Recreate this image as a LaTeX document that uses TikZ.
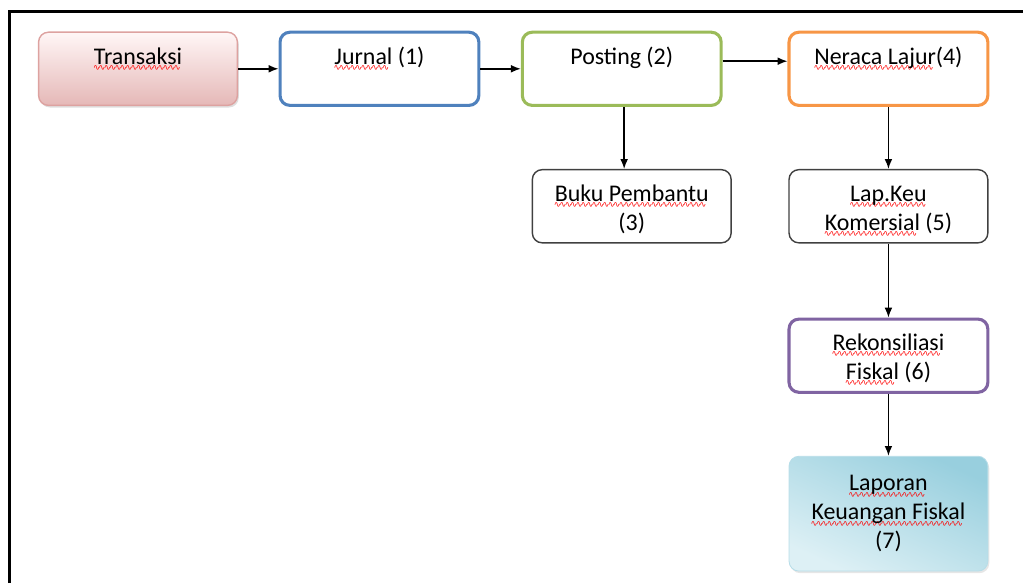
\documentclass[tikz,border=0pt]{standalone}
\usepackage{fontspec}
\setmainfont{Carlito}
\newfontfamily\wavefont{DejaVu Sans}
\usetikzlibrary{arrows.meta, positioning, shadows}

\definecolor{pinkline}{HTML}{DDA2A0}
\definecolor{pinktop}{HTML}{FFF6F6}
\definecolor{pinkbot}{HTML}{E5B8B7}
\definecolor{blueline}{HTML}{4F81BD}
\definecolor{greenline}{HTML}{9BBB59}
\definecolor{orangeline}{HTML}{F79646}
\definecolor{purpleline}{HTML}{8064A2}
\definecolor{cyantop}{HTML}{98CFDE}
\definecolor{cyanbot}{HTML}{DDF0F5}

% red wavy mark under words
\newsavebox\wordbox
\newcommand\spellmark[1]{\sbox\wordbox{#1}\leavevmode
	\rlap{\smash{\raisebox{-4.5pt}{\hbox to\wd\wordbox{\color{red}\wavefont\fontsize{6}{6}\selectfont
		\leaders\hbox{\kern-0.6pt∿\kern-0.6pt}\hfill}}}}\usebox\wordbox}

\tikzset{
	box/.style={rectangle, draw, rounded corners=7pt, minimum width=4.97cm, minimum height=1.83cm, align=center, inner sep=0pt, font=\fontsize{17}{20.6}\selectfont},
	toptext/.style={text height=23pt, text depth=29pt},
	twotext/.style={text height=42.9pt, text depth=9.1pt},
	plainbox/.style={box, twotext, draw=black!75, line width=1pt},
	arrow/.style={draw, line width=1pt, -{Latex[length=7pt, width=5.5pt]}}
}

\begin{document}
\begin{tikzpicture}[
	node distance=1.55cm and 1.01cm,
	colbox/.style={box, line width=2.2pt, toptext}
	]
	\useasboundingbox (0,0) rectangle (25.575,-14.575);
	
	% --- frame ---
	\draw[line width=2.5pt] (0.2375,-14.575) |- (25.575,-0.2875);
	
	% --- top row ---
	\node[box, toptext, draw=pinkline, line width=1pt, top color=pinktop, bottom color=pinkbot,
		drop shadow={shadow xshift=1pt, shadow yshift=-1.5pt, opacity=0.25}] (transaksi) at (3.45,-1.72) {\spellmark{Transaksi}};
	\node[colbox, draw=blueline, right=of transaksi] (jurnal) {\spellmark{Jurnal} (1)};
	\node[colbox, draw=greenline, right=of jurnal] (posting) {Posting (2)};
	\node[colbox, draw=orangeline, right=1.62cm of posting] (neraca) {\spellmark{Neraca Lajur}(4)};
	
	% --- lower boxes ---
	\node[plainbox, below=of posting, xshift=0.25cm] (buku) {\spellmark{Buku Pembantu}\\(3)};
	\node[plainbox, below=of neraca] (lapkeu) {\spellmark{Lap.Keu}\\\spellmark{Komersial} (5)};
	\node[box, twotext, draw=purpleline, line width=2.2pt, below=1.85cm of lapkeu] (rekon) {\spellmark{Rekonsiliasi}\\\spellmark{Fiskal} (6)};
	\node[box, draw=cyantop!70, line width=0.6pt, minimum height=2.87cm, top color=cyantop, bottom color=cyanbot, shading angle=-25,
		drop shadow={shadow xshift=1pt, shadow yshift=-1.5pt, opacity=0.2}, below=1.55cm of rekon] (laporan) {\spellmark{Laporan}\\\spellmark{Keuangan Fiskal}\\(7)};
	
	% --- arrows ---
	\draw[arrow] (transaksi) -- (jurnal);
	\draw[arrow] (jurnal) -- (posting);
	\draw[arrow] ([yshift=0.19cm]posting.east) -- ([yshift=0.19cm]neraca.west);
	\draw[arrow] ([xshift=0.06cm]posting.south) -- ([xshift=0.06cm]posting.south |- buku.north);
	\draw[arrow] (neraca) -- (lapkeu);
	\draw[arrow] (lapkeu) -- (rekon);
	\draw[arrow] (rekon) -- (laporan);
	
\end{tikzpicture}
\end{document}
